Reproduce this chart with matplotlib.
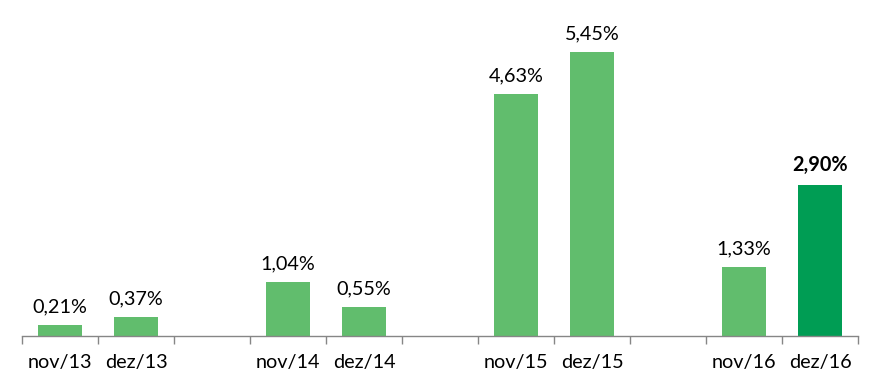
import matplotlib
matplotlib.use("Agg")
import matplotlib.pyplot as plt
import numpy as np

categories = ["nov/13", "dez/13", "", "nov/14", "dez/14", "", "nov/15", "dez/15", "", "nov/16", "dez/16"]
values = [0.21, 0.37, None, 1.04, 0.55, None, 4.63, 5.45, None, 1.33, 2.90]
labels = ["0,21%", "0,37%", "", "1,04%", "0,55%", "", "4,63%", "5,45%", "", "1,33%", "2,90%"]
highlight = [False, False, False, False, False, False, False, False, False, False, True]

plt.rcParams['font.family'] = ['Lato', 'DejaVu Sans']

fig = plt.figure(figsize=(8.81, 3.89), dpi=100)
ax = fig.add_axes([22/881, (389-336)/389, (858-22)/881, (336-23)/389])

x = np.arange(len(categories))
light = "#61BD6D"
dark = "#009D54"
for i, (v, lab, h) in enumerate(zip(values, labels, highlight)):
    if v is None:
        continue
    ax.bar(x[i], v, width=0.58, color=dark if h else light)
    ax.annotate(lab, (x[i], v), xytext=(0, 7), textcoords="offset points",
                ha="center", va="bottom", fontsize=14.3,
                fontweight="bold" if h else "normal", color="#000000")

ax.set_xlim(-0.5, len(categories) - 0.5)
ax.set_ylim(0, 6.0)
ax.set_yticks([])
ax.set_xticks(x)
ax.set_xticklabels(categories, fontsize=14.3)
ax.set_xticks(np.arange(-0.5, len(categories), 1), minor=True)
ax.tick_params(axis="x", which="major", length=0, pad=13)
ax.tick_params(axis="x", which="minor", length=6, color="#868686", width=1)
for s in ["top", "right", "left"]:
    ax.spines[s].set_visible(False)
ax.spines["bottom"].set_color("#868686")
ax.spines["bottom"].set_linewidth(1)

fig.savefig("out.png", dpi=100)
